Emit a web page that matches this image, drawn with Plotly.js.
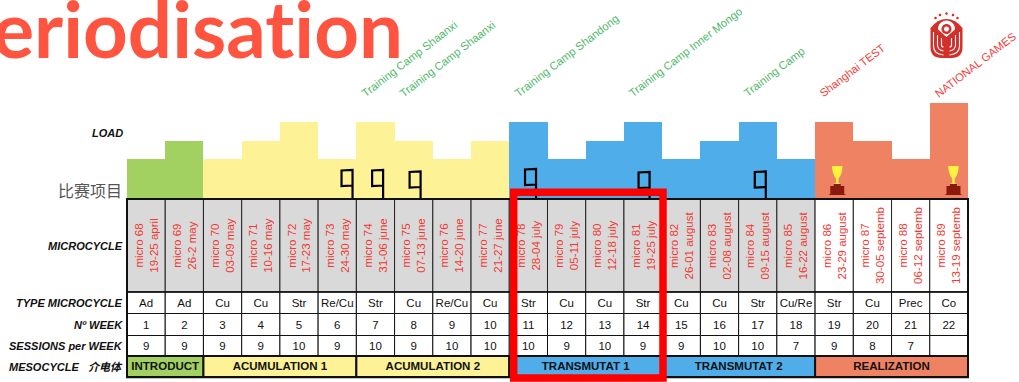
<!DOCTYPE html>
<html><head><meta charset="utf-8">
<script src="https://cdn.plot.ly/plotly-3.0.1.min.js"></script>
<style>html,body{margin:0;padding:0;background:#fff}#c{width:1019px;height:382px}svg text{font-variant-ligatures:none !important;font-feature-settings:"liga" 0,"clig" 0 !important;letter-spacing:0.01px}</style>
</head><body><div id="c"></div>
<script>
// ---- data ----
const weeks=[1,2,3,4,5,6,7,8,9,10,11,12,13,14,15,16,17,18,19,20,21,22];
const loadValues=[2.1,3.1,2.1,3.1,4.1,2.1,4.1,3.1,2.1,3.1,4.1,2.1,3.1,4.1,2.1,3.1,4.1,2.1,4.1,3.1,2.1,5.1];
const microNames=[68,69,70,71,72,73,74,75,76,77,78,79,80,81,82,83,84,85,86,87,88,89];
const microDates=['19-25 april','26-2 may','03-09 may','10-16 may','17-23 may','24-30 may','31-06 june','07-13 june','14-20 june','21-27 june','28-04 july','05-11 july','12-18 july','19-25 july','26-01 august','02-08 august','09-15 august','16-22 august','23-29 august','30-05 septemb','06-12 septemb','13-19 septemb'];
const microTypes=['Ad','Ad','Cu','Cu','Str','Re/Cu','Str','Cu','Re/Cu','Cu','Str','Cu','Cu','Str','Cu','Cu','Str','Cu/Re','Str','Cu','Prec','Co'];
const sessions=[9,9,9,9,10,9,10,9,10,10,10,9,10,9,9,10,10,7,9,8,7,''];
const mesoNames=['INTRODUCT','ACUMULATION 1','ACUMULATION 2','TRANSMUTAT 1','TRANSMUTAT 2','REALIZATION'];
const mesoLengths=[2,4,4,4,4,4];
const rowLabels=['MICROCYCLE','TYPE MICROCYCLE','Nº WEEK','SESSIONS per WEEK'];
const camps=[['Training Camp Shaanxi',6],['Training Camp Shaanxi',7],['Training Camp Shandong',10],['Training Camp Inner Mongo',13],['Training Camp',16]];
const comps=[['Shanghai TEST',18],['NATIONAL GAMES',21]];
const flagWeeks=[5.4,6.2,7.18,10.2,13.17,16.21];
const trophyWeeks=[18.08,21.12];
// ---- styling / layout constants ----
const W=1019,H=382,L=127,R=968,BASE=198.5,UNIT=18.7;
const rowEdges=[199,292,313.5,335.5,356,377];
const mesoColors=['#A2D162','#FDF295','#FDF295','#4FADEA','#4FADEA','#EE8263'];
const RED='#F03A33',GREEN='#4DB866',FONT='Liberation Sans, Arial, Noto Sans CJK SC, sans-serif';
const colW=(R-L)/22;
const idx=weeks.map((_,i)=>i);
let start=0;const mesoStart=mesoLengths.map(n=>{const s=start;start+=n;return s;});
const colMeso=idx.map(i=>mesoStart.reduce((a,s,k)=>i>=s?k:a,0));
const yv=p=>(BASE-p)/UNIT;
const py=p=>1-p/H;

const rowBar=(r,extra)=>Object.assign({type:'bar',x:idx,y:idx.map(()=>rowEdges[r+1]-rowEdges[r]),base:idx.map(()=>rowEdges[r]),width:1,yaxis:'y2',cliponaxis:false,hoverinfo:'skip',showlegend:false,marker:{color:'#fff',line:{color:'#111',width:1}}},extra);
const rowText=(r,vals,size)=>({type:'scatter',mode:'text',x:idx,y:idx.map(()=>(rowEdges[r]+rowEdges[r+1])/2+1.2),text:vals.map(String),yaxis:'y2',textfont:{family:FONT,size:size||11.5,color:'#111'},cliponaxis:false,hoverinfo:'skip',showlegend:false});

const traces=[
 {type:'bar',x:idx,y:loadValues,width:1,marker:{color:colMeso.map(k=>mesoColors[k]),line:{width:0}},hoverinfo:'skip',showlegend:false,cliponaxis:false},
 rowBar(0,{marker:{color:idx.map(i=>i<18?'#D9D9D9':'#FFFFFF'),line:{color:'#222',width:1}},
   text:idx.map(i=>'micro '+microNames[i]+'<br>'+microDates[i]),textposition:'inside',insidetextanchor:'middle',textangle:-90,constraintext:'none',
   insidetextfont:{family:FONT,size:11.5,color:RED}}),
 rowBar(1),rowBar(2),rowBar(3),
 {type:'bar',x:mesoStart.map((s,k)=>s+mesoLengths[k]/2-0.5),y:mesoNames.map(()=>rowEdges[5]-rowEdges[4]),base:mesoNames.map(()=>rowEdges[4]),width:mesoLengths,yaxis:'y2',cliponaxis:false,hoverinfo:'skip',showlegend:false,marker:{color:mesoColors,line:{color:'#111',width:2}}},
 rowText(1,microTypes),rowText(2,weeks),rowText(3,sessions),
 {type:'scatter',mode:'text',x:mesoStart.map((s,k)=>s+mesoLengths[k]/2-0.5),y:mesoNames.map(()=>(rowEdges[4]+rowEdges[5])/2+1),text:mesoNames.map(s=>'<b>'+s+'</b>'),yaxis:'y2',textfont:{family:FONT,size:11.5,color:'#111'},hoverinfo:'skip',showlegend:false,cliponaxis:false}
];

const ann=[];
const rowMid=r=>(rowEdges[r]+rowEdges[r+1])/2;
rowLabels.forEach((t,r)=>ann.push({xref:'x',yref:'y2',x:-0.5,xshift:-2,y:rowMid(r),text:'<b><i>'+t+'</i></b>',showarrow:false,xanchor:'right',yanchor:'middle',font:{family:FONT,size:11,color:'#111'}}));
ann.push({xref:'x',yref:'y2',x:-0.5,xshift:-2,y:rowMid(4),text:'<b><i>MESOCYCLE&nbsp;&nbsp;&nbsp;介电体</i></b>',showarrow:false,xanchor:'right',yanchor:'middle',font:{family:FONT,size:11,color:'#111'}});
ann.push({xref:'x',yref:'y',x:-0.5,xshift:-2,y:yv(133),text:'<b><i>LOAD</i></b>',showarrow:false,xanchor:'right',yanchor:'middle',font:{family:FONT,size:11,color:'#111'}});
ann.push({xref:'x',yref:'y',x:-0.5,xshift:-3,y:yv(190),text:'比赛项目',showarrow:false,xanchor:'right',yanchor:'middle',font:{family:'Noto Sans CJK SC',size:16,color:'#555'}});
const diag=(t,i,c)=>ann.push({xref:'x',yref:'y',x:i-0.5,xshift:0,y:yv(102),text:t,textangle:-37.5,showarrow:false,xanchor:'left',yanchor:'bottom',font:{family:FONT,size:11.2,color:c}});
camps.forEach(([t,i])=>diag(t,i,GREEN));
comps.forEach(([t,i])=>diag(t,i,'#F2413A'));
ann.push({xref:'x',yref:'paper',x:(401-L)/colW-0.5,xshift:4,y:1,yshift:21.5,text:'<b>Periodisation</b>',showarrow:false,xanchor:'right',yanchor:'top',font:{family:'Lato',size:78,color:'#FF5540'}});

const shapes=[];
const icon=(x,y,path,fill,line,lw)=>shapes.push({type:'path',xref:'x',yref:'y',xsizemode:'pixel',ysizemode:'pixel',xanchor:x,yanchor:y,path,fillcolor:fill||'rgba(0,0,0,0)',line:{color:line||'rgba(0,0,0,0)',width:lw||0}});
const disc=(cx,cy,r)=>{const k=0.5523*r;return `M ${cx-r} ${cy} C ${cx-r} ${cy+k} ${cx-k} ${cy+r} ${cx} ${cy+r} C ${cx+k} ${cy+r} ${cx+r} ${cy+k} ${cx+r} ${cy} C ${cx+r} ${cy-k} ${cx+k} ${cy-r} ${cx} ${cy-r} C ${cx-k} ${cy-r} ${cx-r} ${cy-k} ${cx-r} ${cy} Z`;};
flagWeeks.forEach((f,k)=>{
  const top=[28.5,28.5,27,29.5,26.5,27][k];
  icon(f,0,`M 0 0 L 0 ${top} L -11 ${top-0.5} L -11 ${top-16} L 0 ${top-15.5}`,null,'#000',2.2);
});
trophyWeeks.forEach(t=>{
  icon(t,0,'M -9 3.5 L 9 3.5 L 7 4.5 L 7 12.5 L 3.5 12.5 L 3.5 14.5 L -3.5 14.5 L -3.5 12.5 L -7 12.5 L -7 4.5 L -9 3.5 Z','#8A1A0E');
  icon(t,0,'M -5.3 32.5 L 5.3 32.5 Q 5 24 1.2 20 L 1.2 15.5 L 3.5 14.5 L -3.5 14.5 L -1.2 15.5 L -1.2 20 Q -5 24 -5.3 32.5 Z','#FFF23E');
});
// emblem
const lx=(946.5-L)/colW-0.5,ly=yv(38),lc='#D3302B';
icon(lx,ly,'M -16 10 L -16 -9 Q -16 -20 -5 -20 L 5 -20 Q 16 -20 16 -9 L 16 10 Q 9 19 0 19 Q -9 19 -16 10 Z',lc);
icon(lx,ly,disc(0,9,8.5),'#fff');
['M -13 6 L -13 -8 Q -13 -16 -3 -17','M 13 6 L 13 -8 Q 13 -16 3 -17','M -9 3 L -9 -7 Q -9 -12 -3 -13','M 9 3 L 9 -7 Q 9 -12 3 -13','M -5 0 L -5 -7 Q -5 -9 -3 -9','M 5 0 L 5 -7 Q 5 -9 3 -9'].forEach(p=>icon(lx,ly,p,null,'#fff',1.1));
icon(lx,ly,'M -12 7 L -9 9 L 0 1 L 9 9 L 12 7 L 2 -3 L 2 -14 L -2 -14 L -2 -3 Z',lc);
icon(lx,ly,disc(0,9,5),lc);
icon(lx,ly,disc(0,9,2.6),'#fff');
[[-11,20],[-6.5,23],[0,24.5],[6.5,23],[11,20]].forEach(([a,b])=>icon(lx,ly,disc(a,b,1.3),lc));
// corner marker
shapes.push({type:'path',xref:'x',yref:'y2',xsizemode:'pixel',ysizemode:'pixel',xanchor:-0.5,yanchor:rowEdges[1],path:'M -9 0 L 0 0 L -0.5 -6.5 Z',fillcolor:'#F0352E',line:{width:0}});
// outer border + red highlight box
shapes.push({type:'rect',xref:'paper',yref:'paper',x0:0,x1:1,y0:py(377.3),y1:py(199),line:{color:'#111',width:2},fillcolor:'rgba(0,0,0,0)'});
shapes.push({type:'line',xref:'paper',yref:'paper',x0:0,x1:1,y0:py(292),y1:py(292),line:{color:'#111',width:1.6}});
shapes.push({type:'rect',xref:'x',yref:'paper',x0:(513.7-L)/colW-0.5,x1:(663-L)/colW-0.5,y0:py(378),y1:py(192.3),line:{color:'#FF0000',width:7.5},fillcolor:'rgba(0,0,0,0)'});

const layout={width:W,height:H,margin:{l:L,r:W-R,t:0,b:0,pad:0},paper_bgcolor:'#fff',plot_bgcolor:'#fff',barmode:'overlay',bargap:0,showlegend:false,
 xaxis:{range:[-0.5,21.5],visible:false,fixedrange:true},
 yaxis:{domain:[1-BASE/H,1],range:[0,BASE/UNIT],visible:false,fixedrange:true},
 yaxis2:{domain:[0,1-BASE/H],range:[H,BASE],visible:false,fixedrange:true},
 annotations:ann,shapes};
Plotly.newPlot('c',traces,layout,{displayModeBar:false,staticPlot:true});
</script></body></html>
